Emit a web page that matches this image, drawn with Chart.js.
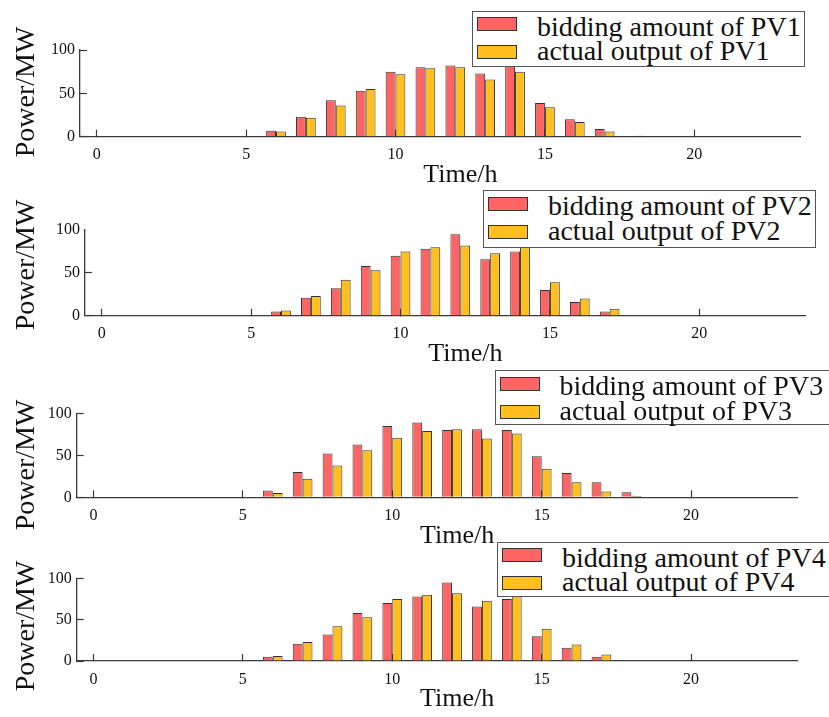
<!DOCTYPE html>
<html>
<head>
<meta charset="utf-8">
<title>PV bidding amount and actual output</title>
<script src="https://cdn.jsdelivr.net/npm/chart.js@4.4.1/dist/chart.umd.min.js"></script>
<style>
  html, body { margin: 0; padding: 0; background: #fff; }
  #page { position: relative; width: 829px; height: 717px; overflow: hidden; background: #fff; }
  #page canvas { position: absolute; left: 0; }
  .legend {
    position: absolute; box-sizing: border-box; background: #fff; border: 1px solid #555;
    font-family: 'Liberation Serif', 'Times New Roman', serif; font-size: 28px; color: #111;
    white-space: nowrap;
  }
  .legend .swatch { position: absolute; left: 4px; width: 40px; height: 14px; box-sizing: border-box; border: 1px solid #333; }
  .legend .label { position: absolute; left: 64px; line-height: 28px; }
</style>
</head>
<body>
<div id="page">
  <canvas id="pv1"></canvas>
  <canvas id="pv2"></canvas>
  <canvas id="pv3"></canvas>
  <canvas id="pv4"></canvas>
</div>
<script>
// hours of the day
const hours = [0, 1, 2, 3, 4, 5, 6, 7, 8, 9, 10, 11, 12, 13, 14, 15, 16, 17, 18, 19, 20, 21, 22, 23];
const hourTicks = [0, 5, 10, 15, 20];
const powerTicks = [0, 50, 100];

// MW per hour
const pv1Bid = [0, 0, 0, 0, 0, 0, 7, 23, 42, 53, 75, 80, 82, 73, 84, 39, 20, 9, 0, 0, 0, 0, 0, 0];
const pv1Act = [0, 0, 0, 0, 0, 0, 6, 22, 36, 55, 72, 79, 80, 66, 75, 34, 17, 6, 1, 0, 0, 0, 0, 0];
const pv2Bid = [0, 0, 0, 0, 0, 0, 5, 21, 32, 58, 70, 78, 95, 66, 75, 30, 16, 5, 0, 0, 0, 0, 0, 0];
const pv2Act = [0, 0, 0, 0, 0, 0, 6, 23, 42, 53, 75, 80, 82, 73, 80, 39, 20, 8, 0, 0, 0, 0, 0, 0];
const pv3Bid = [0, 0, 0, 0, 0, 0, 8, 30, 52, 63, 85, 89, 80, 81, 80, 49, 29, 18, 6, 0, 0, 0, 0, 0];
const pv3Act = [0, 0, 0, 0, 0, 0, 5, 22, 38, 56, 71, 79, 81, 70, 76, 34, 18, 7, 1.5, 0, 0, 0, 0, 0];
const pv4Bid = [0, 0, 0, 0, 0, 0, 5, 21, 32, 58, 70, 78, 95, 66, 75, 30, 16, 5, 0, 0, 0, 0, 0, 0];
const pv4Act = [0, 0, 0, 0, 0, 0, 6, 23, 42, 53, 75, 80, 82, 73, 80, 39, 20, 8, 0, 0, 0, 0, 0, 0];

const RED = '#ff6464';
const YELLOW = '#ffbf1f';
const EDGE = '#333';
const AXIS = '#3a3a3a';
const INK = '#111';
const SERIF = "'Liberation Serif', 'Times New Roman', serif";
const X_AXIS_H = 54;

// where each subplot sits on the page; captions are placed in page pixels
const panels = [
  { id: 'pv1', name: 'PV1', bid: pv1Bid, act: pv1Act, top: 0,   h: 191, left: 80,   right: 800.7, plotTop: 50,    plotBottom: 136.7, topTick: true,
    yCaption: 92, legend: { left: 472, top: 10.7, width: 333, height: 56 } },
  { id: 'pv2', name: 'PV2', bid: pv2Bid, act: pv2Act, top: 190, h: 180, left: 85,   right: 805.7, plotTop: 230,   plotBottom: 315.7, topTick: false,
    yCaption: 265, legend: { left: 483, top: 190, width: 333, height: 57.5 } },
  { id: 'pv3', name: 'PV3', bid: pv3Bid, act: pv3Act, top: 370, h: 182, left: 76.7, right: 797.5, plotTop: 413.3, plotBottom: 497.3, topTick: true,
    yCaption: 465, legend: { left: 494.5, top: 370, width: 360, height: 55 } },
  { id: 'pv4', name: 'PV4', bid: pv4Bid, act: pv4Act, top: 540, h: 177, left: 76.7, right: 797.5, plotTop: 578.3, plotBottom: 661, topTick: true,
    yCaption: 626, legend: { left: 497, top: 541.7, width: 360, height: 55 } }
];

// axis captions, drawn a little off the plot centre like the original figure
const axisCaptions = {
  id: 'axisCaptions',
  afterDraw(chart, args, opts) {
    const { ctx, chartArea } = chart;
    ctx.save();
    ctx.fillStyle = INK;
    ctx.textAlign = 'center';
    ctx.textBaseline = 'middle';

    ctx.font = '26px ' + SERIF;
    ctx.fillText(opts.xText, (chartArea.left + chartArea.right) / 2 + opts.xShift, chartArea.bottom + 38.4);

    ctx.translate(26.8, opts.yCenter);
    ctx.rotate(-Math.PI / 2);
    ctx.font = '28px ' + SERIF;
    ctx.fillText(opts.yText, 0, 0);
    ctx.restore();
  }
};

function renderLegend(chart, p) {
  const box = document.createElement('div');
  box.className = 'legend';
  box.style.left = p.legend.left + 'px';
  box.style.top = p.legend.top + 'px';
  box.style.width = p.legend.width + 'px';
  box.style.height = p.legend.height + 'px';
  chart.data.datasets.forEach((ds, i) => {
    const sw = document.createElement('span');
    sw.className = 'swatch';
    sw.style.top = (5.5 + i * 28) + 'px';
    sw.style.background = ds.backgroundColor;
    sw.style.borderColor = ds.borderColor;
    const txt = document.createElement('span');
    txt.className = 'label';
    txt.style.top = (1 + i * 24.5) + 'px';
    txt.textContent = ds.label;
    box.append(sw, txt);
  });
  document.getElementById('page').appendChild(box);
}

function makePanel(p) {
  const canvas = document.getElementById(p.id);
  canvas.width = 829;
  canvas.height = p.h;
  canvas.style.top = p.top + 'px';

  return new Chart(canvas, {
    type: 'bar',
    data: {
      labels: hours,
      datasets: [
        { label: 'bidding amount of ' + p.name, data: p.bid, backgroundColor: RED, borderColor: EDGE, borderWidth: 1 },
        { label: 'actual output of ' + p.name, data: p.act, backgroundColor: YELLOW, borderColor: EDGE, borderWidth: 1 }
      ]
    },
    options: {
      responsive: false,
      animation: false,
      devicePixelRatio: 1,
      datasets: { bar: { categoryPercentage: 0.66, barPercentage: 1 } },
      layout: {
        padding: {
          left: 0,
          right: 829 - p.right,
          top: p.plotTop - p.top,
          bottom: p.top + p.h - p.plotBottom - X_AXIS_H
        }
      },
      plugins: {
        legend: { display: false },
        tooltip: { enabled: false },
        axisCaptions: { xText: 'Time/h', yText: 'Power/MW', xShift: 20, yCenter: p.yCaption - p.top }
      },
      scales: {
        x: {
          type: 'linear',
          min: -0.56,
          max: 23.56,
          offset: false,
          z: 1,
          afterBuildTicks: s => { s.ticks = hourTicks.map(v => ({ value: v })); },
          afterFit: s => { s.height = X_AXIS_H; },
          grid: { offset: false, drawOnChartArea: false, drawTicks: true, tickLength: -7, tickColor: AXIS, tickWidth: 1.2 },
          border: { color: AXIS, width: 1.3 },
          ticks: { padding: 15.7, color: INK, autoSkip: false, maxRotation: 0, font: { family: SERIF, size: 16 } }
        },
        y: {
          min: 0,
          max: 100,
          z: 1,
          afterBuildTicks: s => { s.ticks = powerTicks.map(v => ({ value: v })); },
          afterFit: s => { s.width = p.left; },
          grid: {
            drawOnChartArea: false, drawTicks: true, tickLength: -7, tickWidth: 1.2,
            tickColor: ctx => (ctx.tick && ctx.tick.value === 100 && !p.topTick) ? 'rgba(0,0,0,0)' : AXIS
          },
          border: { color: AXIS, width: 1.3 },
          ticks: { padding: 12, color: INK, font: { family: SERIF, size: 16 } }
        }
      }
    },
    plugins: [axisCaptions]
  });
}

panels.forEach(p => {
  const chart = makePanel(p);
  renderLegend(chart, p);
});
</script>
</body>
</html>
